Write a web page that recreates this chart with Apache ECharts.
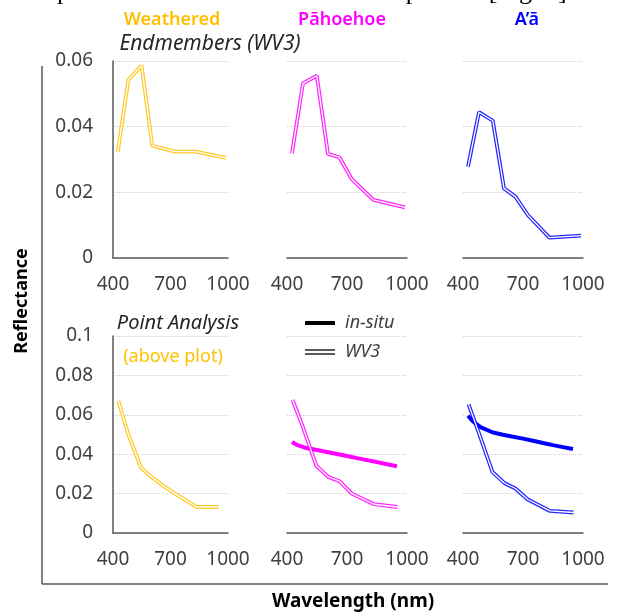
<!DOCTYPE html>
<html>
<head>
<meta charset="utf-8">
<script src="https://cdn.jsdelivr.net/npm/echarts@6/dist/echarts.min.js"></script>
<style>
html,body{margin:0;padding:0;background:#fff;}
#chart{width:617px;height:612px;}
</style>
</head>
<body>
<div id="chart"></div>
<script>
// ---- Data ----
const panelNames = ['Weathered', 'Pāhoehoe', 'A\u2019ā'];
const panelColors = ['#FFC000', '#FF00FF', '#0000FF'];
const xTicks = [400, 700, 1000];
const topYTicks = [0, 0.02, 0.04, 0.06];
const bottomYTicks = [0, 0.02, 0.04, 0.06, 0.08, 0.1];

// Endmembers (WV3) - top row
const topBands = [425, 480, 549, 605, 662, 724, 832, 990];
const weatheredEnd = [0.0324, 0.0542, 0.0586, 0.0342, 0.0333, 0.0324, 0.0324, 0.0305];
const pahoehoeEnd = [0.0319, 0.0532, 0.0555, 0.0317, 0.0307, 0.0240, 0.0177, 0.0154];
const aaEnd = [0.0278, 0.0444, 0.0418, 0.0212, 0.0187, 0.0131, 0.0062, 0.0068];

// Point analysis - bottom row (WV3)
const bottomBands = [428, 480, 547, 606, 662, 724, 835, 952];
const weatheredPt = [0.0670, 0.0500, 0.0330, 0.0280, 0.0240, 0.0200, 0.0132, 0.0132];
const pahoehoePt = [0.0675, 0.0536, 0.0341, 0.0285, 0.0263, 0.0200, 0.0146, 0.0132];
const aaPt = [0.0653, 0.0506, 0.0310, 0.0254, 0.0226, 0.0170, 0.0112, 0.0104];

// Point analysis - bottom row (in-situ)
const insituWl = [425, 450, 490, 550, 600, 650, 700, 750, 800, 850, 900, 950];
const pahoehoeInsitu = [0.0462, 0.0447, 0.0433, 0.0421, 0.0411, 0.0401, 0.0391, 0.0380, 0.0370, 0.0360, 0.0349, 0.0339];
const aaInsitu = [0.0595, 0.0566, 0.0536, 0.0510, 0.0499, 0.0489, 0.0479, 0.0468, 0.0457, 0.0446, 0.0436, 0.0426];

// ---- Build ----
const FONT = "'Noto Sans', 'Open Sans', sans-serif";
const AXIS_COLOR = '#595959';
const LABEL_COLOR = '#404040';

const gridLefts = [113, 287, 463];
const gridWidths = [115, 120, 120];
const rowTops = [61, 336];
const rowHeight = 197;

const grids = [], xAxes = [], yAxes = [], series = [];
for (let r = 0; r < 2; r++) {
  for (let c = 0; c < 3; c++) {
    const idx = r * 3 + c;
    grids.push({ left: gridLefts[c], top: rowTops[r], width: gridWidths[c], height: rowHeight, containLabel: false });
    xAxes.push({
      type: 'value', gridIndex: idx, min: xTicks[0], max: xTicks[xTicks.length - 1], interval: xTicks[1] - xTicks[0],
      axisLine: { show: true, lineStyle: { color: AXIS_COLOR, width: 1.5 } },
      axisTick: { show: false }, splitLine: { show: false },
      axisLabel: { color: LABEL_COLOR, fontFamily: FONT, fontSize: 19, margin: 17, formatter: v => String(v) }
    });
    const ticks = r === 0 ? topYTicks : bottomYTicks;
    yAxes.push({
      type: 'value', gridIndex: idx, min: ticks[0], max: ticks[ticks.length - 1], interval: ticks[1] - ticks[0],
      axisLine: { show: c === 0, lineStyle: { color: AXIS_COLOR, width: 1.5 } },
      axisTick: { show: false },
      splitLine: { show: true, lineStyle: { color: '#d0d0d0', type: 'dotted', width: 1 } },
      axisLabel: { show: c === 0, color: LABEL_COLOR, fontFamily: FONT, fontSize: 19, margin: 20,
        formatter: v => String(Math.round(v * 100) / 100) }
    });
  }
}

function pairs(xs, ys) { return xs.map((x, i) => [x, ys[i]]); }

function doubleLine(idx, xs, ys, color) {
  series.push({
    type: 'line', xAxisIndex: idx, yAxisIndex: idx, data: pairs(xs, ys), showSymbol: false,
    lineStyle: { color: color, width: 3.8, opacity: 0.85 }, z: 3, silent: true
  });
  series.push({
    type: 'line', xAxisIndex: idx, yAxisIndex: idx, data: pairs(xs, ys), showSymbol: false,
    lineStyle: { color: '#ffffff', width: 1.3 }, z: 4, silent: true
  });
}
function solidLine(idx, xs, ys, color) {
  series.push({
    type: 'line', xAxisIndex: idx, yAxisIndex: idx, data: pairs(xs, ys), showSymbol: false,
    lineStyle: { color: color, width: 4 }, z: 2, silent: true
  });
}

doubleLine(0, topBands, weatheredEnd, panelColors[0]);
doubleLine(1, topBands, pahoehoeEnd, panelColors[1]);
doubleLine(2, topBands, aaEnd, panelColors[2]);

solidLine(4, insituWl, pahoehoeInsitu, panelColors[1]);
solidLine(5, insituWl, aaInsitu, panelColors[2]);
doubleLine(3, bottomBands, weatheredPt, panelColors[0]);
doubleLine(4, bottomBands, pahoehoePt, panelColors[1]);
doubleLine(5, bottomBands, aaPt, panelColors[2]);

const titleX = [172, 342, 527];
const graphics = [
  { type: 'text', x: 15, y: 5, style: { text: 'sampled to WV3 bandwidths for comparison [Fig. 1].', font: "26px 'Liberation Serif', serif", fill: '#000', textVerticalAlign: 'bottom' } },
  { type: 'text', x: 210, y: 44, style: { text: 'Endmembers (WV3)', font: "italic 21px " + FONT, fill: '#262626', textAlign: 'center', textVerticalAlign: 'middle' } },
  { type: 'text', x: 178, y: 323, style: { text: 'Point Analysis', font: "italic 20px " + FONT, fill: '#262626', textAlign: 'center', textVerticalAlign: 'middle' } },
  { type: 'text', x: 173, y: 357, style: { text: '(above plot)', font: "18px " + FONT, fill: '#FFC000', textAlign: 'center', textVerticalAlign: 'middle' } },
  // legend
  { type: 'line', shape: { x1: 305, y1: 323, x2: 335, y2: 323 }, style: { stroke: '#000', lineWidth: 4 } },
  { type: 'text', x: 345, y: 323, style: { text: 'in-situ', font: "italic 18px " + FONT, fill: '#404040', textVerticalAlign: 'middle' } },
  { type: 'line', shape: { x1: 305, y1: 350, x2: 335, y2: 350 }, style: { stroke: '#000', lineWidth: 1.3 } },
  { type: 'line', shape: { x1: 305, y1: 354, x2: 335, y2: 354 }, style: { stroke: '#000', lineWidth: 1.3 } },
  { type: 'text', x: 345, y: 352, style: { text: 'WV3', font: "italic 18px " + FONT, fill: '#404040', textVerticalAlign: 'middle' } },
  // outer frame
  { type: 'line', shape: { x1: 42, y1: 66, x2: 42, y2: 584 }, style: { stroke: AXIS_COLOR, lineWidth: 1.5 } },
  { type: 'line', shape: { x1: 42, y1: 584, x2: 608, y2: 584 }, style: { stroke: AXIS_COLOR, lineWidth: 1.5 } },
  { type: 'text', x: 22, y: 301, rotation: Math.PI / 2, style: { text: 'Reflectance', font: "bold 18px " + FONT, fill: '#000', textAlign: 'center', textVerticalAlign: 'middle' } },
  { type: 'text', x: 353, y: 602, style: { text: 'Wavelength (nm)', font: "bold 19px " + FONT, fill: '#000', textAlign: 'center', textVerticalAlign: 'middle' } }
];
panelNames.forEach((n, i) => {
  graphics.push({ type: 'text', x: titleX[i], y: 20, style: { text: n, font: "600 18px " + FONT, fill: panelColors[i], textAlign: 'center', textVerticalAlign: 'middle' } });
});

const chart = echarts.init(document.getElementById('chart'), null, { renderer: 'canvas' });
chart.setOption({
  animation: false,
  backgroundColor: '#ffffff',
  grid: grids, xAxis: xAxes, yAxis: yAxes, series: series,
  graphic: graphics
});
</script>
</body>
</html>
